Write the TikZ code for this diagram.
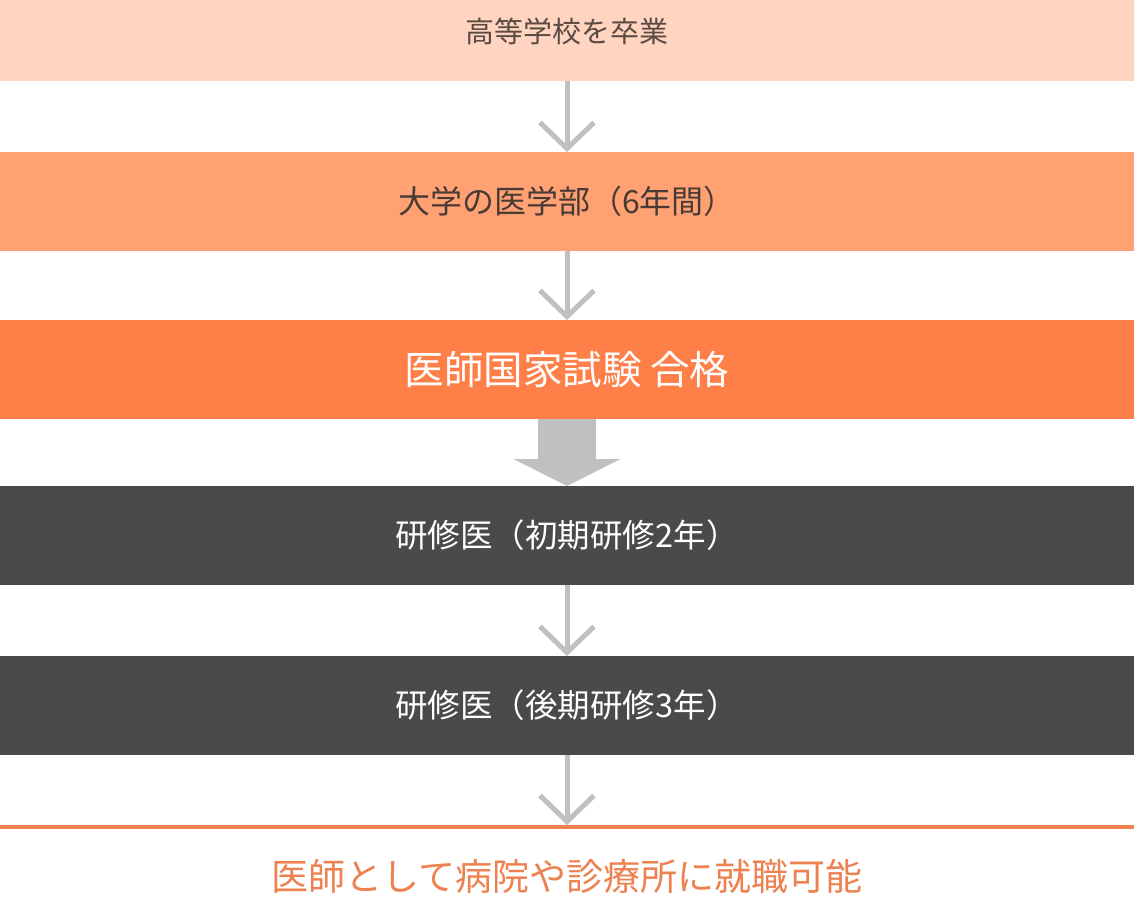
\documentclass[tikz,border=0pt]{standalone}
\usepackage{fontspec}
\setmainfont{Noto Sans CJK JP}
\usetikzlibrary{arrows.meta}
\definecolor{paleSalmon}{HTML}{FFD5C1}
\definecolor{midSalmon}{HTML}{FFA173}
\definecolor{deepOrange}{HTML}{FF7F48}
\definecolor{darkGrey}{HTML}{4A4A4A}
\definecolor{arrowGrey}{HTML}{C0C0C0}
\definecolor{lineOrange}{HTML}{EE8150}
\definecolor{brownText}{HTML}{5A4A42}

\begin{document}
\begin{tikzpicture}[x=1pt,y=-1pt,
    band/.style={minimum width=1134pt,inner sep=0pt,outer sep=0pt,anchor=north},
    thinarrow/.style={draw=arrowGrey,line width=5pt,-{Straight Barb[length=26pt,width=54pt]}},
    fatarrow/.style={draw=arrowGrey,line width=58pt,-{Triangle[length=27pt,width=106pt]}}]
    \useasboundingbox[fill=white] (0,0) rectangle (1134,912);
    \node[band,fill=paleSalmon,minimum height=81pt,text depth=20pt,text=brownText,font=\fontsize{29}{34}\selectfont] (school) at (567,0) {高等学校を卒業};
    \node[band,fill=midSalmon,minimum height=99pt,text=brownText!80!black,font=\fontsize{32}{38}\selectfont] (faculty) at (567,152) {大学の医学部（6年間）};
    \node[band,fill=deepOrange,minimum height=99pt,text=white,font=\fontsize{39.5}{44}\selectfont] (exam) at (567,320) {医師国家試験 合格};
    \node[band,fill=darkGrey,minimum height=99pt,text=white,font=\fontsize{32.5}{38}\selectfont] (early) at (567,486) {研修医（初期研修2年）};
    \node[band,fill=darkGrey,minimum height=99pt,text=white,font=\fontsize{32.5}{38}\selectfont] (late) at (567,656) {研修医（後期研修3年）};
    \coordinate (rule) at (567,825);
    \draw[lineOrange,line width=4pt] (0,827) -- (1134,827);
    \node[text=lineOrange,font=\fontsize{37}{42}\selectfont] (job) at (567,876) {医師として病院や診療所に就職可能};
    % arrows
    \draw[thinarrow] (school.south) -- (faculty.north);
    \draw[thinarrow] (faculty.south) -- (exam.north);
    \draw[fatarrow] (exam.south) -- (early.north);
    \draw[thinarrow] (early.south) -- (late.north);
    \draw[thinarrow] (late.south) -- (rule);
\end{tikzpicture}
\end{document}
